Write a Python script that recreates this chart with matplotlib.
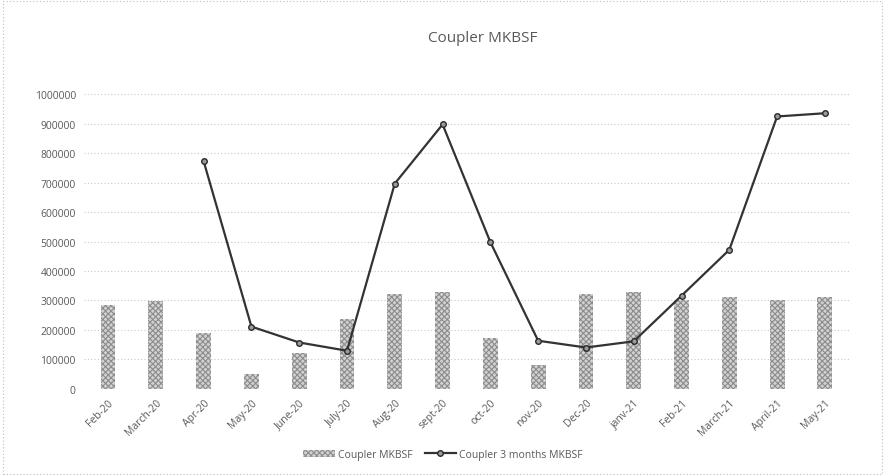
import numpy as np
import matplotlib.pyplot as plt
from matplotlib.lines import Line2D
from matplotlib.patches import Patch, Rectangle

months = ['Feb-20', 'March-20', 'Apr-20', 'May-20', 'June-20', 'July-20', 'Aug-20', 'sept-20',
          'oct-20', 'nov-20', 'Dec-20', 'janv-21', 'Feb-21', 'March-21', 'April-21', 'May-21']
coupler = [285000, 299000, 188000, 49000, 123000, 237000, 322000, 330000,
           171000, 81000, 322000, 330000, 302000, 312000, 303000, 312000]
coupler_3m = [np.nan, np.nan, 773000, 211000, 157000, 129000, 697000, 898000,
              498000, 163000, 140000, 161000, 316000, 472000, 925000, 936000]

txt = '#595959'
bar_face = '#d2d2d2'
bar_hatch = '#8c8c8c'
plt.rcParams['font.family'] = ['Open Sans', 'DejaVu Sans']
plt.rcParams['hatch.linewidth'] = 0.8

fig = plt.figure(figsize=(8.86, 4.77), dpi=100)
ax = fig.add_axes([0.095, 0.183, 0.863, 0.617])

x = np.arange(len(months))
ax.bar(x, coupler, width=0.31, color=bar_face, edgecolor=bar_hatch, hatch='xxxxxx',
       linewidth=0, zorder=2)
ax.plot(x, coupler_3m, color='#333333', lw=1.6, marker='o', ms=4,
        mfc='#9a9a9a', mec='#2a2a2a', mew=1.0, zorder=3)

ax.set_xlim(-0.5, len(months) - 0.5)
ax.set_ylim(0, 1000000)
ax.set_yticks(np.arange(0, 1000001, 100000))
ax.set_yticklabels([str(v) for v in range(0, 1000001, 100000)], fontsize=7.5, color=txt)
ax.set_xticks(x)
ax.set_xticklabels(months, rotation=45, ha='right', rotation_mode='anchor',
                   fontsize=7.5, color=txt)
ax.tick_params(length=0, pad=6)
ax.grid(axis='y', color='#c8c8c8', linestyle=(0, (1, 2)), lw=0.8, zorder=0)
for s in ax.spines.values():
    s.set_visible(False)

fig.text(0.545, 0.92, 'Coupler MKBSF', ha='center', va='center', fontsize=11, color=txt)

handles = [Patch(facecolor=bar_face, edgecolor=bar_hatch, hatch='xxxxxx', linewidth=0),
           Line2D([], [], color='#333333', lw=1.6, marker='o', ms=4,
                  mfc='#9a9a9a', mec='#2a2a2a')]
fig.legend(handles, ['Coupler MKBSF', 'Coupler 3 months MKBSF'], loc='center',
           bbox_to_anchor=(0.5, 0.045), ncol=2, frameon=False, fontsize=7.5,
           labelcolor=txt, handlelength=3, columnspacing=1.2, handletextpad=0.3)

fig.patches.append(Rectangle((0.003, 0.005), 0.993, 0.99, transform=fig.transFigure,
                             fill=False, edgecolor='#bdbdbd', lw=0.8, linestyle=(0, (1, 2))))

fig.savefig('out.png', dpi=100, facecolor='white')
